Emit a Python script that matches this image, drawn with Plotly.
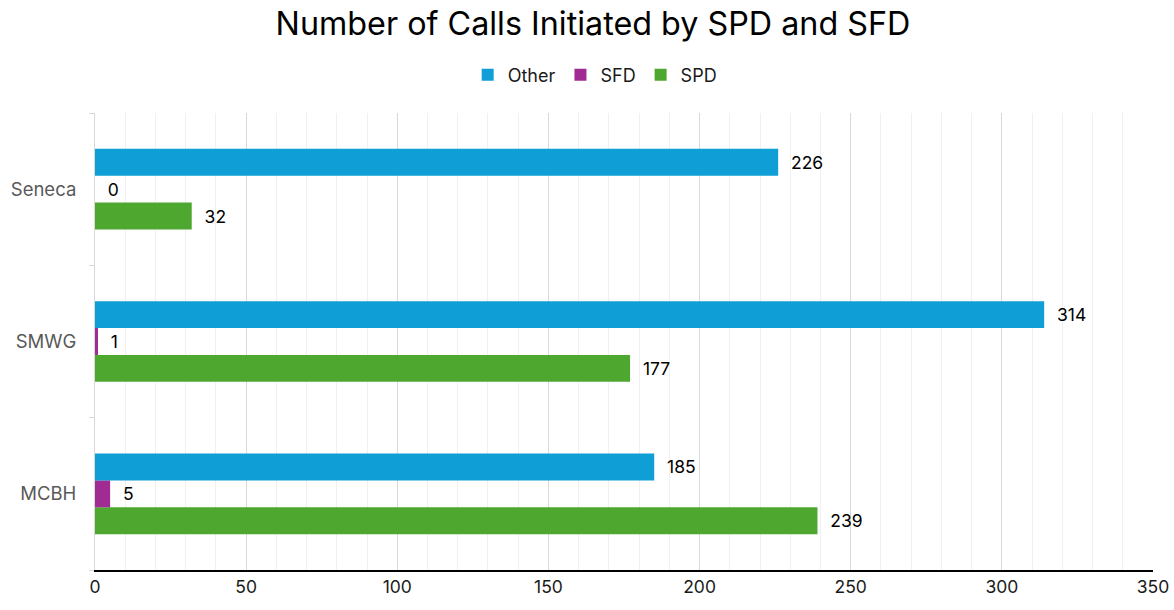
import plotly.graph_objects as go

categories = ["MCBH", "SMWG", "Seneca"]
other_vals = [185, 314, 226]
sfd_vals = [5, 1, 0]
spd_vals = [239, 177, 32]
x_ticks = [0, 50, 100, 150, 200, 250, 300, 350]

FONT = "Inter"
PAD = "\u00a0\u00a0"
W, H = 1174, 610

fig = go.Figure()
for name, vals, color in [
    ("SPD", spd_vals, "#4EA72E"),
    ("SFD", sfd_vals, "#A02B93"),
    ("Other", other_vals, "#0F9ED5"),
]:
    fig.add_trace(go.Bar(
        y=categories, x=vals, name=name, orientation="h",
        marker=dict(color=color, line=dict(width=0)),
        text=[PAD + str(v) for v in vals], textposition="outside",
        textfont=dict(size=17.5, color="#000000", family=FONT),
        cliponaxis=False,
    ))

fig.update_layout(
    width=W, height=H,
    margin=dict(l=95, r=21, t=113, b=40, autoexpand=False),
    paper_bgcolor="white", plot_bgcolor="white",
    barmode="group", bargap=0.47, bargroupgap=0,
    title=dict(text="Number of Calls Initiated by SPD and SFD", x=593 / W, xanchor="center",
               y=1 - 23.5 / H, yanchor="middle",
               font=dict(size=32.3, color="#000000", family=FONT)),
    legend=dict(orientation="h", x=(598 - 43) / W, xanchor="center", yref="container",
                y=1 - 75 / H, yanchor="middle",
                traceorder="reversed", font=dict(size=18, color="#1a1a1a", family=FONT),
                itemwidth=30, entrywidth=0, tracegroupgap=0),
    font=dict(family=FONT),
    xaxis=dict(range=[0, 350], tickvals=x_ticks, showgrid=True, gridcolor="#d9d9d9",
               gridwidth=1, zeroline=False, showline=True, linecolor="#000000", linewidth=1.5,
               tickfont=dict(size=17.5, color="#1a1a1a"), ticks="", automargin=False,
               minor=dict(dtick=10, showgrid=True, gridcolor="#f0f0f0", gridwidth=1)),
    yaxis=dict(showgrid=False, showline=True, linecolor="#d9d9d9", linewidth=1,
               ticks="outside", tickson="boundaries", ticklen=5, tickcolor="#d9d9d9",
               tickfont=dict(size=18.5, color="#595959"), ticklabelstandoff=14,
               automargin=False),
)

fig.write_html(
    "out.html",
    config={"displayModeBar": False},
    post_script="document.body.style.margin='0';document.body.style.overflow='hidden';",
)
